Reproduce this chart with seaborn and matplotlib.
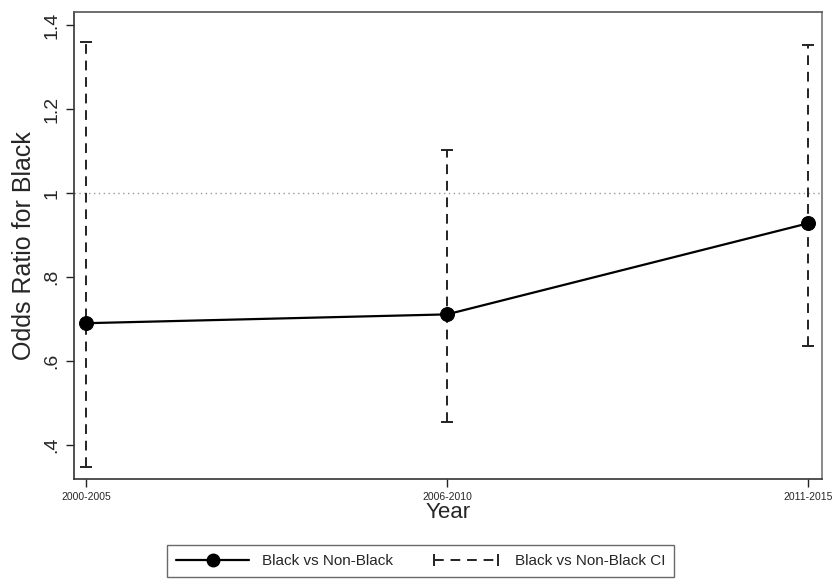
import matplotlib
matplotlib.use("Agg")
import matplotlib.pyplot as plt
from matplotlib.lines import Line2D
from matplotlib.legend_handler import HandlerLine2D
import seaborn as sns
import pandas as pd

# data
periods = ["2000-2005", "2006-2010", "2011-2015"]
odds_ratio = [0.690, 0.711, 0.928]
ci_low = [0.348, 0.455, 0.636]
ci_high = [1.360, 1.103, 1.352]

df = pd.DataFrame({"pos": range(len(periods)), "period": periods,
                   "or": odds_ratio, "lo": ci_low, "hi": ci_high})

sns.set_style("ticks")
plt.rcParams["font.family"] = ["Liberation Sans", "DejaVu Sans"]

fig = plt.figure(figsize=(8.38, 5.84), dpi=100)
ax = fig.add_axes([0.0883, 0.180, 0.8927, 0.799])

# reference line at 1
ax.axhline(1.0, color="#9a9a9a", lw=1.0, ls=(0, (1, 2.5)), zorder=1)

# CI bars
eb = ax.errorbar(df["pos"], df["or"],
                 yerr=[df["or"] - df["lo"], df["hi"] - df["or"]],
                 fmt="none", ecolor="#222222", elinewidth=1.4, capsize=4,
                 capthick=1.4, zorder=2)
for lc in eb[2]:
    lc.set_linestyle((0, (5, 3.5)))

sns.lineplot(data=df, x="pos", y="or", color="black", lw=1.6, marker="o",
             markersize=10, markeredgecolor="black", ax=ax, zorder=3)

ax.set_xlim(-0.033, 2.039)
ax.set_ylim(0.319, 1.431)
ax.set_xticks(df["pos"])
ax.set_xticklabels(periods, fontsize=7.5)
ax.set_yticks([0.4, 0.6, 0.8, 1.0, 1.2, 1.4])
ax.set_yticklabels([".4", ".6", ".8", "1", "1.2", "1.4"], fontsize=14,
                   rotation=90, va="center")
ax.tick_params(axis="both", direction="out", length=6, width=1, color="#222222")
ax.tick_params(axis="y", pad=4)
ax.set_xlabel("Year", fontsize=16, labelpad=0)
ax.set_ylabel("Odds Ratio for Black", fontsize=18, labelpad=5)
for side in ["left", "bottom", "top", "right"]:
    ax.spines[side].set_visible(True)
    ax.spines[side].set_linewidth(1.2)
    ax.spines[side].set_color("#333333")
ax.spines["top"].set_color("#555555")
ax.spines["right"].set_color("#777777")

h1 = Line2D([], [], color="black", lw=1.6, marker="o", markersize=9)
h2 = Line2D([], [], color="#222222", lw=1.4, ls=(0, (5, 3.5)), marker="|",
            markersize=8, markeredgewidth=1.4)
leg = fig.legend([h1, h2], ["Black vs Non-Black", "Black vs Non-Black CI"],
                 loc="upper center", bbox_to_anchor=(0.502, 0.0668), ncol=2,
                 fontsize=11, frameon=True, fancybox=False, edgecolor="#444444",
                 handlelength=4.8, handletextpad=0.8, columnspacing=2.4,
                 borderpad=0.6, borderaxespad=0.0,
                 handler_map={h1: HandlerLine2D(numpoints=1),
                              h2: HandlerLine2D(numpoints=2)})
leg.get_frame().set_linewidth(1.0)

fig.savefig("out.png", dpi=100)
